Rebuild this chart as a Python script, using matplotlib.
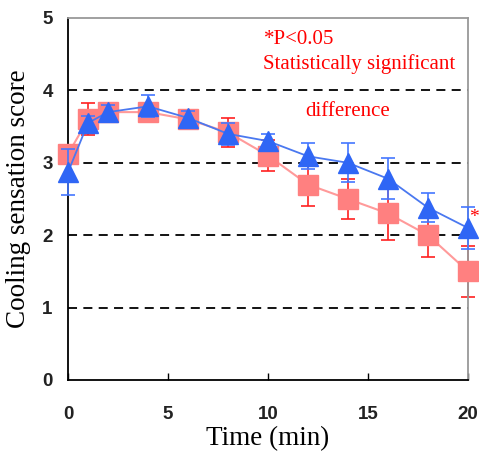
import matplotlib
matplotlib.use("Agg")
import matplotlib.pyplot as plt

time = [0, 1, 2, 4, 6, 8, 10, 12, 14, 16, 18, 20]
pink_vals = [3.12, 3.6, 3.7, 3.7, 3.6, 3.42, 3.1, 2.7, 2.5, 2.3, 2.0, 1.5]
pink_err = [0.05, 0.22, 0.08, 0.12, 0.08, 0.2, 0.22, 0.3, 0.27, 0.36, 0.3, 0.35]
blue_vals = [2.87, 3.55, 3.7, 3.78, 3.62, 3.4, 3.3, 3.09, 3.0, 2.78, 2.38, 2.1]
blue_err = [0.32, 0.1, 0.1, 0.15, 0.1, 0.15, 0.1, 0.18, 0.27, 0.28, 0.2, 0.29]
grid_levels = [1, 2, 3, 4]
xticks = [0, 5, 10, 15, 20]
yticks = [0, 1, 2, 3, 4, 5]

fig = plt.figure(figsize=(4.79, 4.59), dpi=100)
ax = fig.add_axes([68/479, 1-380/459, 400/479, 362/459])

for g in grid_levels:
    ax.axhline(g, color="black", lw=1.3, ls=(0, (5, 3.5)), zorder=1)

eb1 = ax.errorbar(time, pink_vals, yerr=pink_err, fmt="none", ecolor="#ff2020",
                  elinewidth=1.2, capsize=5, capthick=1.2, zorder=2)
ax.plot(time, pink_vals, color="#ff9a9a", lw=1.5, marker="s", ms=14,
        mfc="#ff8080", mec="#ff8080", zorder=3, clip_on=False)
eb2 = ax.errorbar(time, blue_vals, yerr=blue_err, fmt="none", ecolor="#4477ff",
                  elinewidth=1.2, capsize=5, capthick=1.2, zorder=4)
ax.plot(time, blue_vals, color="#4a78f0", lw=1.3, marker="^", ms=15,
        mfc="#2f66f5", mec="#2f66f5", zorder=5, clip_on=False)
for eb in (eb1, eb2):
    for art in eb.lines[1] + eb.lines[2]:
        art.set_clip_on(False)

ax.set_xlim(0, 20)
ax.set_ylim(0, 5)
ax.set_xticks(xticks)
ax.set_yticks(yticks)
ax.tick_params(axis="x", direction="in", length=5, width=1, pad=19,
               labelsize=13.5)
ax.tick_params(axis="y", length=0, pad=11, labelsize=13.5)
for lab in ax.get_xticklabels() + ax.get_yticklabels():
    lab.set_fontfamily("Liberation Sans")
    lab.set_fontweight("bold")
    lab.set_color("#222222")

ax.spines["left"].set_color("black")
ax.spines["bottom"].set_color("black")
ax.spines["right"].set_color("#999999")
ax.spines["top"].set_color("#999999")
for s in ax.spines.values():
    s.set_linewidth(1.3)

ax.set_ylabel("Cooling sensation score", fontfamily="Liberation Serif",
              fontsize=19.5, labelpad=8)
ax.set_xlabel("Time (min)", fontfamily="Liberation Serif", fontsize=19.5,
              labelpad=2)

fig.text(264/479, 1-40/459, "*P<0.05", color="red",
         fontfamily="Liberation Serif", fontsize=15, va="center")
fig.text(263/479, 1-64/459, "Statistically significant", color="red",
         fontfamily="Liberation Serif", fontsize=15, va="center")
fig.text(305/479, 1-111/459, "difference", color="red",
         fontfamily="Liberation Serif", fontsize=15, va="center")
fig.text(469/479, 1-218/459, "*", color="red",
         fontfamily="Liberation Serif", fontsize=14, va="center")

fig.savefig("out.png", dpi=100)
